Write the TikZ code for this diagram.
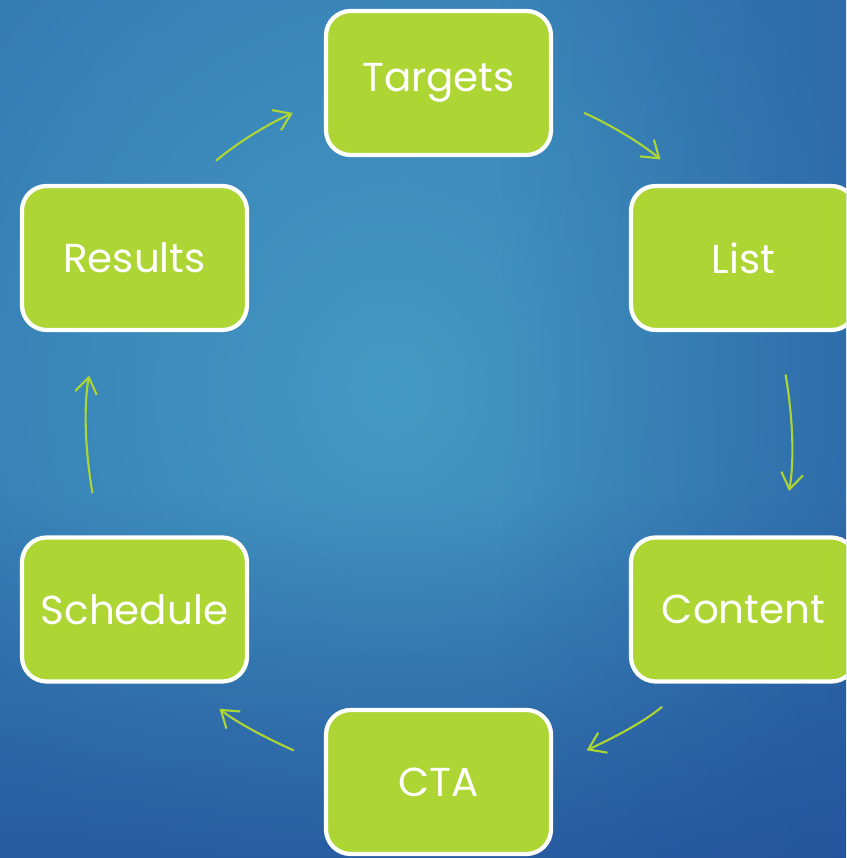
\documentclass[tikz,border=0pt]{standalone}
\usepackage{fontspec}
\setmainfont{Poppins}
\usetikzlibrary{arrows.meta,fadings}
\definecolor{boxgreen}{RGB}{173,213,51}
\definecolor{bglight}{RGB}{68,153,194}
\definecolor{bgedge}{RGB}{52,124,180}
\definecolor{bgdeep}{RGB}{32,70,148}
\begin{document}
\begin{tikzpicture}[%
  stage/.style={draw=white, line width=1.2pt, fill=boxgreen, rounded corners=7pt,%
    minimum width=2.25cm, minimum height=1.44cm, inner sep=0pt,%
    text=white, font=\fontsize{11.5}{13}\selectfont},%
  flow/.style={draw=boxgreen, line width=0.6pt, -{Straight Barb[length=1.6mm,width=2.2mm]}}%
]%
\def\xl{1.345};%
\def\xm{4.385};%
\def\xr{7.435};%
\useasboundingbox (0,0) rectangle (8.46,8.58);%
\clip (0,0) rectangle (8.46,8.58);%
%
\shade[inner color=bglight, outer color=bgedge] (-1.2,-1.0) rectangle (9.0,10.4);%
\fill[bgdeep, path fading=north, fill opacity=0.6] (0,0) rectangle (8.46,3.6);%
\fill[bgdeep, path fading=west, fill opacity=0.3] (5,0) rectangle (8.46,8.58);%
%
\node[stage] (targets)  at (\xm,7.75)  {Targets};%
\node[stage] (list)     at (\xr,6.00)  {List};%
\node[stage] (content)  at (\xr,2.485) {Content};%
\node[stage] (cta)      at (\xm,0.76)  {CTA};%
\node[stage] (schedule) at (\xl,2.485) {Schedule};%
\node[stage] (results)  at (\xl,6.00)  {Results};%
%
\draw[flow, shorten <=3.6mm, shorten >=3.4mm] (results.54) to[out=40,in=204] (targets.188);%
\draw[flow, shorten <=3.4mm, shorten >=3.8mm] (targets.-8) to[out=-24,in=140] (list.126);%
\draw[flow, shorten <=4.3mm, shorten >=4.5mm] (list.-65) to[out=-80,in=80] (content.63);%
\draw[flow, shorten <=3.6mm, shorten >=3.7mm] (content.-126) to[out=-140,in=25] (cta.8);%
\draw[flow, shorten <=3.3mm, shorten >=4.0mm] (cta.171) to[out=156,in=-39] (schedule.-54);%
\draw[flow, shorten <=4.3mm, shorten >=4.4mm] (schedule.115) to[out=100,in=-100] (results.-117);%
%
\end{tikzpicture}
\end{document}
